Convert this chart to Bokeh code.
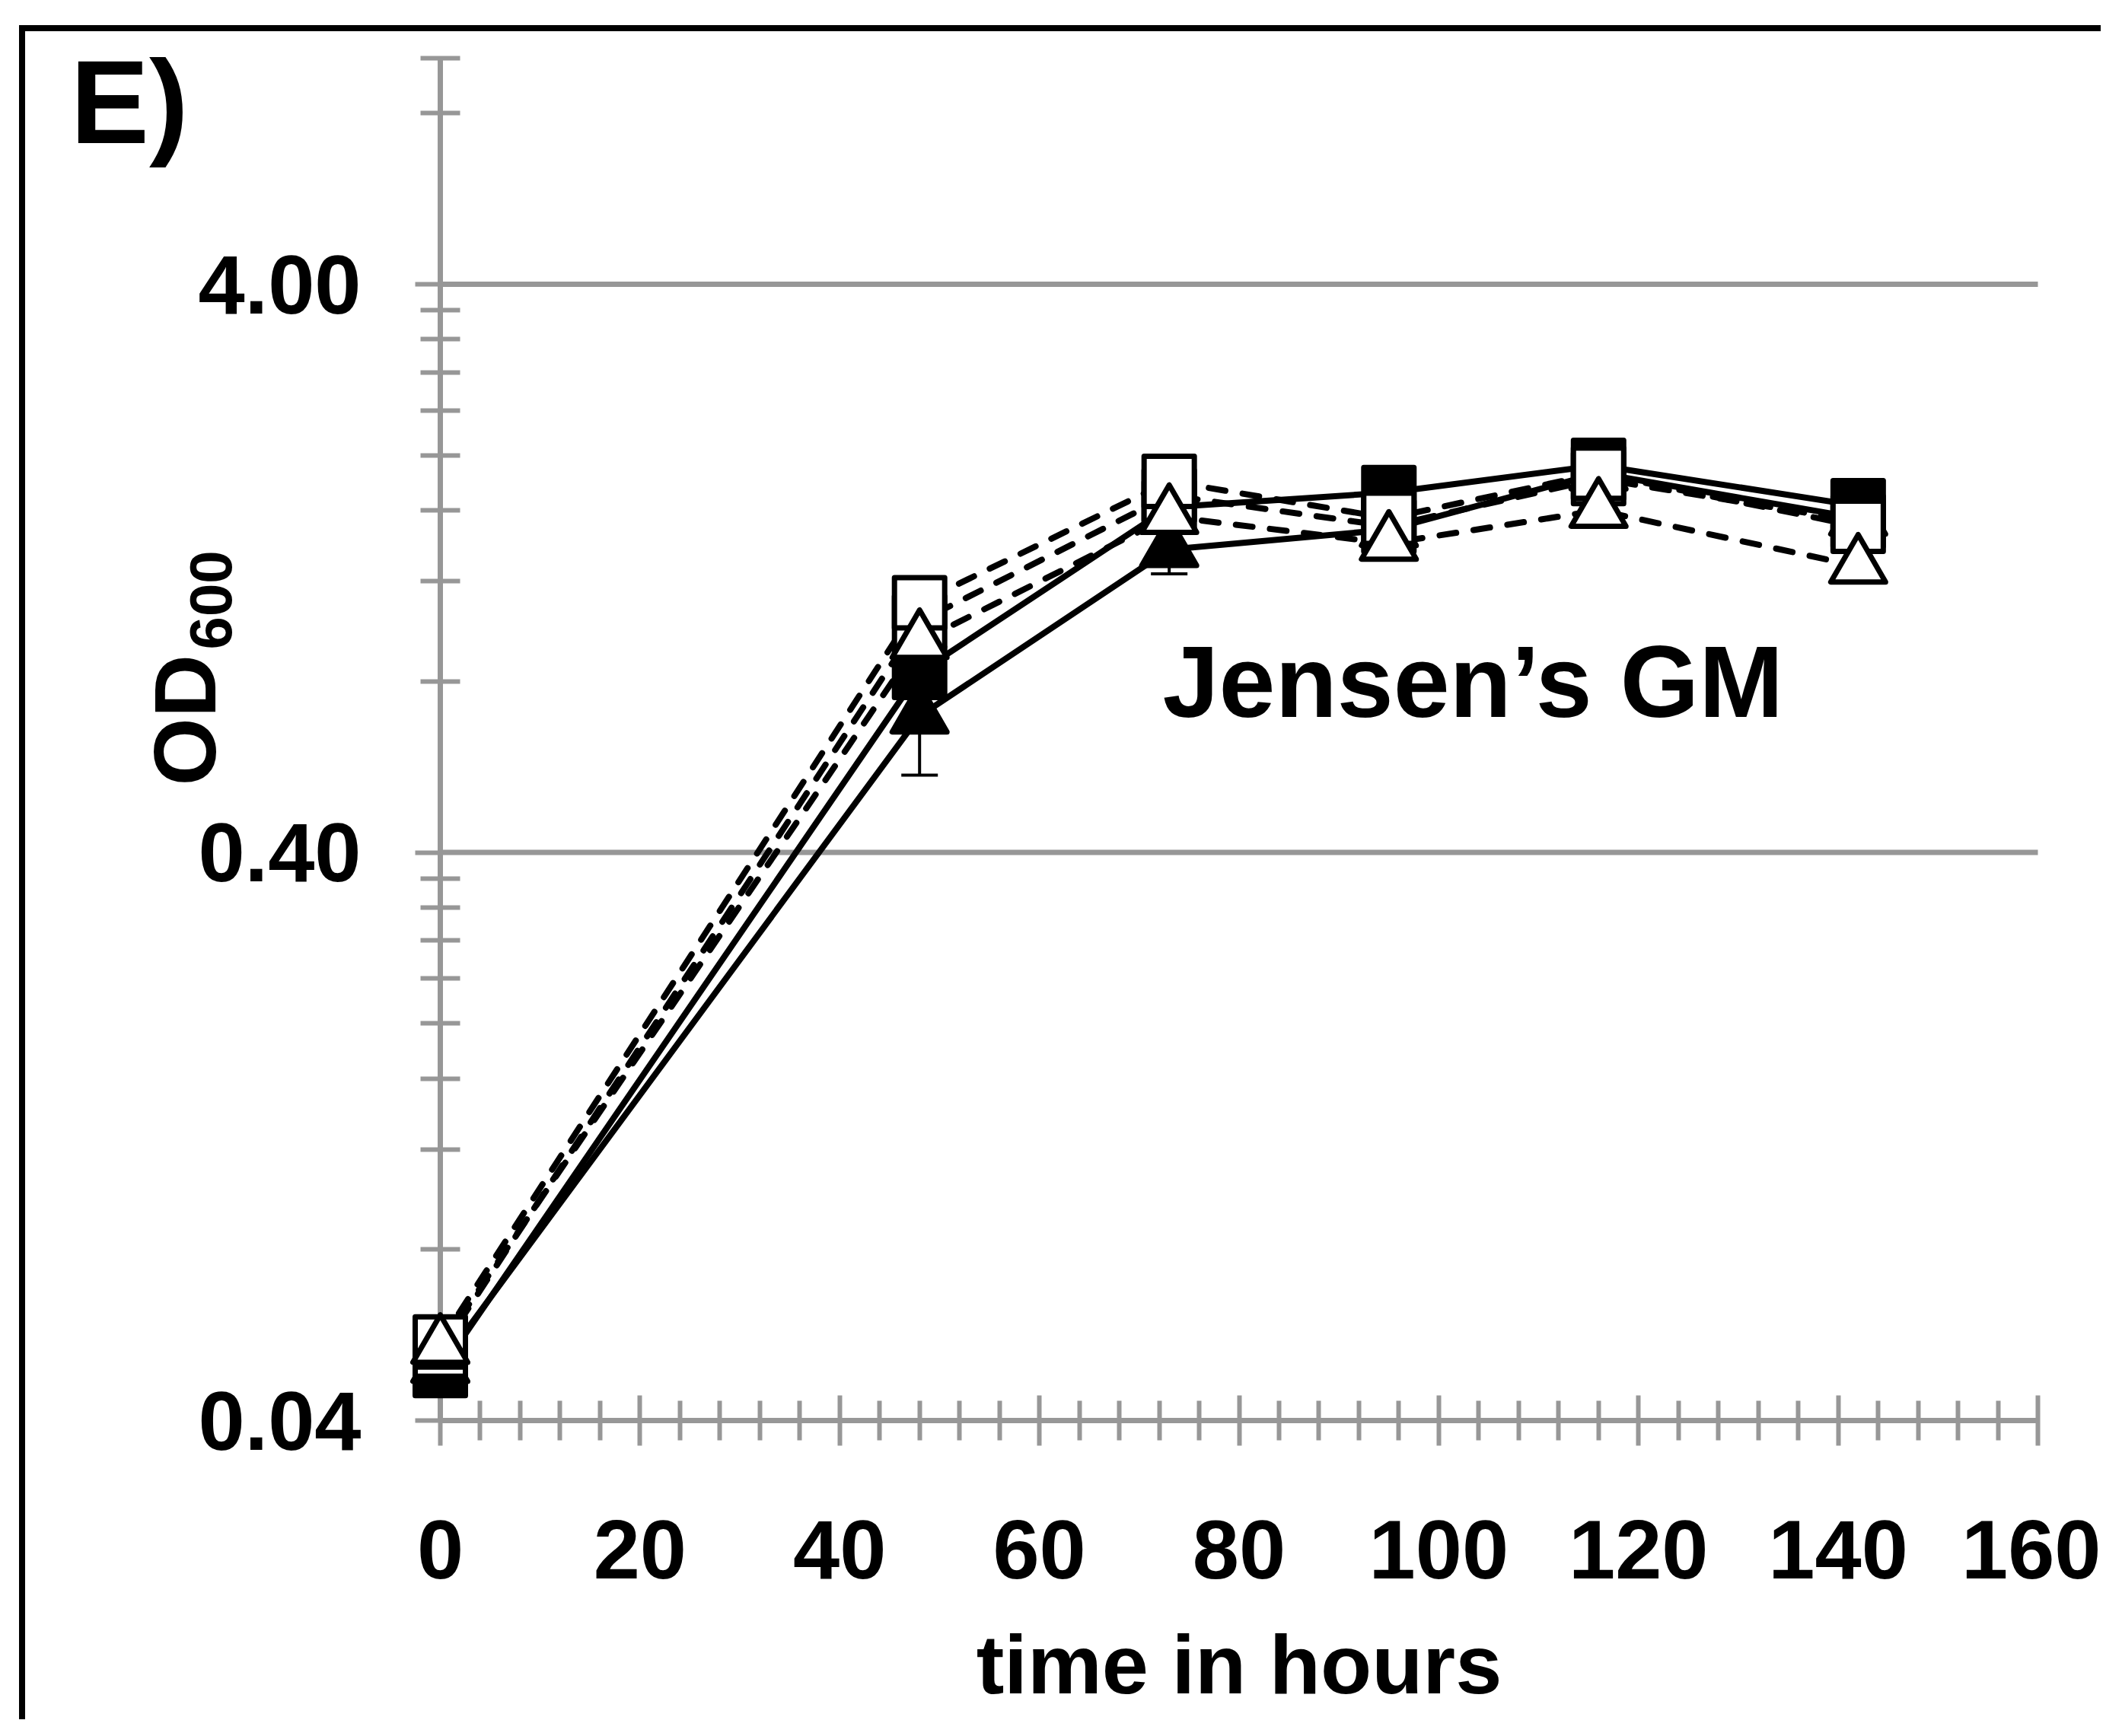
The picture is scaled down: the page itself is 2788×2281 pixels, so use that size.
import math
from bokeh.plotting import figure
from bokeh.models import Range1d, FixedTicker, PrintfTickFormatter, Label, LinearAxis, LogAxis
from bokeh.embed import file_html
from bokeh.resources import INLINE

# ---------------- data ----------------
times = [0, 48, 73, 95, 116, 142]

# solid line, filled square
od_solid_sq = [0.049, 0.83, 1.62, 1.72, 1.92, 1.63]
# solid line, filled triangle (with error bars)
od_solid_tri = [0.050, 0.695, 1.365, 1.48, 1.86, 1.55]
err_solid_tri = [0.002, 0.148, 0.128, 0.03, 0.03, 0.03]
# dashed line, open square (mostly hidden behind others)
od_dash_sq2 = [0.053, 1.02, 1.70, 1.50, 1.82, 1.53]
# dashed line, open square
od_dash_sq = [0.055, 1.10, 1.80, 1.55, 1.86, 1.50]
# dashed line, open triangle
od_dash_tri = [0.054, 0.94, 1.56, 1.40, 1.60, 1.276]

x_ticks = [0, 20, 40, 60, 80, 100, 120, 140, 160]
x_minor = [4, 8, 12, 16, 24, 28, 32, 36, 44, 48, 52, 56, 64, 68, 72, 76,
           84, 88, 92, 96, 104, 108, 112, 116, 124, 128, 132, 136, 144, 148, 152, 156]
y_ticks = [0.04, 0.4, 4.0]
y_minor = [0.08, 0.12, 0.16, 0.20, 0.24, 0.28, 0.32, 0.36,
           0.8, 1.2, 1.6, 2.0, 2.4, 2.8, 3.2, 3.6, 8.0, 10.0]
y_grid = [0.4, 4.0]

X_MIN, X_MAX = 0, 160
Y_MIN, Y_MAX = 0.04, 10.0

# ---------------- layout (pixel positions in the page picture) ----------------
W, H = 2735, 2226
OX, OY = 35, 41                  # page pixel of the canvas' top-left corner
AX_L, AX_R = 580, 2679           # x = 0 .. 160
AX_T, AX_B = 76, 1866            # y = 10 .. 0.04

GRAY = "#979797"
FONT = "Liberation Sans"

def xd(px):
    return X_MIN + (px - AX_L) * (X_MAX - X_MIN) / (AX_R - AX_L)

def yd(py):
    lo, hi = math.log10(Y_MIN), math.log10(Y_MAX)
    return 10 ** (hi - (py - AX_T) / (AX_B - AX_T) * (hi - lo))

p = figure(
    width=W, height=H,
    x_range=Range1d(xd(OX), xd(OX + W)), y_range=Range1d(yd(OY + H), yd(OY)),
    y_axis_type="log", x_axis_location=None, y_axis_location=None,
    output_backend="svg", toolbar_location=None,
    min_border=0,
)
p.styles = {"border-left": "8px solid black", "border-top": "8px solid black",
            "margin-left": "25px", "margin-top": "33px"}
p.outline_line_color = None
p.background_fill_color = "white"
p.border_fill_color = "white"
p.xgrid.visible = False
p.ygrid.visible = False

# axes, fixed at x = 0 and y = 0.04
xa = LinearAxis(fixed_location=Y_MIN, bounds=(X_MIN, X_MAX),
                ticker=FixedTicker(ticks=x_ticks, minor_ticks=x_minor),
                formatter=PrintfTickFormatter(format="%d"))
ya = LogAxis(fixed_location=X_MIN, bounds=(Y_MIN, Y_MAX),
             ticker=FixedTicker(ticks=y_ticks, minor_ticks=y_minor),
             formatter=PrintfTickFormatter(format="%.2f"))
for ax in (xa, ya):
    ax.level = "underlay"
    ax.axis_line_color = GRAY
    ax.axis_line_width = 7
    ax.major_tick_line_color = GRAY
    ax.major_tick_line_width = 6
    ax.minor_tick_line_color = GRAY
    ax.minor_tick_line_width = 6
    ax.major_label_text_font = FONT
    ax.major_label_text_font_style = "bold"
    ax.major_label_text_font_size = "110px"
    ax.major_label_text_color = "black"
xa.major_tick_in = 33
xa.major_tick_out = 33
xa.minor_tick_in = 26
xa.minor_tick_out = 26
ya.major_tick_in = 0
ya.major_tick_out = 33
ya.minor_tick_in = 26
ya.minor_tick_out = 26
ya.major_label_standoff = 71
xa.major_label_standoff = 98

xa.axis_label = "time in hours"
xa.axis_label_text_font = FONT
xa.axis_label_text_font_style = "bold"
xa.axis_label_text_font_size = "110px"
xa.axis_label_text_color = "black"
xa.axis_label_standoff = 48

p.add_layout(xa, "below")
p.add_layout(ya, "left")

# horizontal gridlines
p.segment(x0=[X_MIN] * len(y_grid), y0=y_grid, x1=[X_MAX] * len(y_grid), y1=y_grid,
          line_color=GRAY, line_width=7, level="underlay")

# ---------------- data marks ----------------
LW = 8
DASH = "22 23"
series = [
    (od_solid_sq, "solid", "square", "black"),
    (od_solid_tri, "solid", "triangle", "black"),
    (od_dash_sq2, DASH, "square", "white"),
    (od_dash_sq, DASH, "square", "white"),
    (od_dash_tri, DASH, "triangle", "white"),
]
for vals, dash, mk, fill in series:
    p.line(times, vals, line_color="black", line_width=LW, line_dash=dash,
           line_cap="round", line_join="round")

# error bars for the filled-triangle series
lo = [v - e for v, e in zip(od_solid_tri, err_solid_tri)]
hi = [v + e for v, e in zip(od_solid_tri, err_solid_tri)]
p.segment(x0=times, y0=lo, x1=times, y1=hi, line_color="black", line_width=4)
p.scatter(times, lo, marker="dash", size=48, line_color="black", line_width=4)
p.scatter(times, hi, marker="dash", size=48, line_color="black", line_width=4)

for vals, dash, mk, fill in series:
    size = 66 if mk == "square" else 72
    p.scatter(times, vals, marker=mk, size=size, fill_color=fill,
              line_color="black", line_width=7, line_join="round")

# ---------------- texts ----------------
def lab(text, px, py, size, angle=0.0):
    p.add_layout(Label(x=xd(px), y=yd(py), text=text, angle=angle, text_font=FONT,
                       text_font_style="bold", text_font_size=f"{size}px",
                       text_align="left", text_baseline="alphabetic",
                       text_color="black"))

lab("E)", 94, 134, 155)
lab("Jensen\u2019s GM", 1529, 895, 133)
lab("OD", 244, 1032, 115, math.pi / 2)
lab("600", 278, 853, 78, math.pi / 2)

open("out.html", "w").write(file_html(p, INLINE))
